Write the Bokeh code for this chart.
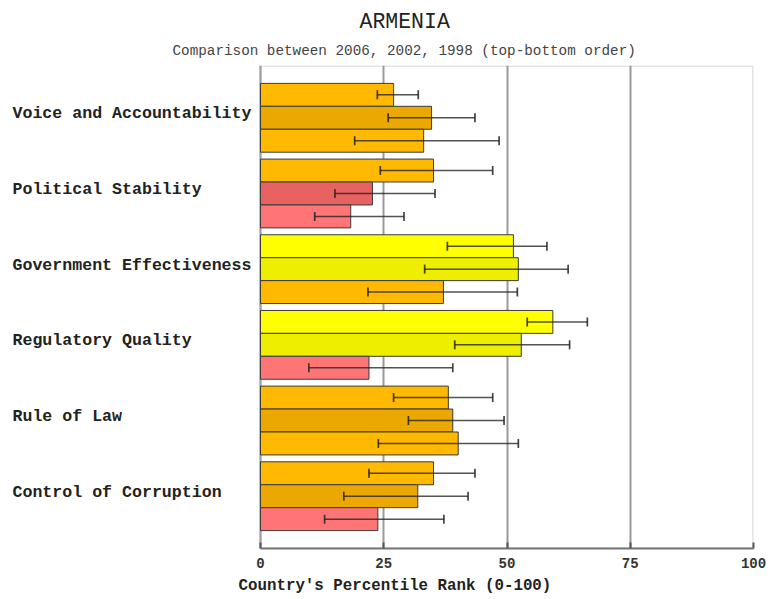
from bokeh.plotting import figure
from bokeh.models import ColumnDataSource, FactorRange, Whisker, TeeHead, Title, FixedTicker, BoxAnnotation
from bokeh.core.properties import value
from bokeh.embed import file_html
from bokeh.resources import INLINE

categories = ["Voice and Accountability", "Political Stability", "Government Effectiveness",
              "Regulatory Quality", "Rule of Law", "Control of Corruption"]
years = ["2006", "2002", "1998"]

rank_2006 = [27.0, 35.1, 51.3, 59.3, 38.1, 35.1]
lower_2006 = [23.7, 24.3, 37.9, 54.1, 27.0, 22.0]
upper_2006 = [32.0, 47.1, 58.1, 66.3, 47.1, 43.5]

rank_2002 = [34.7, 22.7, 52.3, 52.9, 39.0, 31.9]
lower_2002 = [25.9, 15.1, 33.3, 39.4, 30.0, 16.9]
upper_2002 = [43.5, 35.4, 62.4, 62.7, 49.4, 42.1]

rank_1998 = [33.1, 18.3, 37.1, 22.0, 40.1, 23.8]
lower_1998 = [19.1, 11.0, 21.8, 9.8, 23.9, 13.0]
upper_1998 = [48.4, 29.1, 52.1, 39.0, 52.3, 37.2]

x_ticks = [0, 25, 50, 75, 100]

ranks = {"2006": rank_2006, "2002": rank_2002, "1998": rank_1998}
lowers = {"2006": lower_2006, "2002": lower_2002, "1998": lower_1998}
uppers = {"2006": upper_2006, "2002": upper_2002, "1998": upper_1998}

LIGHT = ["#FF7575", "#FFB900", "#FFFF00", "#33CC33"]
DARK = ["#E86262", "#EAA800", "#EEEE00", "#22AA22"]


def band(v):
    return 0 if v < 25 else 1 if v < 50 else 2 if v < 75 else 3


ys, rs, los, his, cols = [], [], [], [], []
for i, c in enumerate(categories):
    for yr in years:
        v = ranks[yr][i]
        ys.append((c, yr))
        rs.append(v)
        los.append(lowers[yr][i])
        his.append(uppers[yr][i])
        cols.append((DARK if yr == "2002" else LIGHT)[band(v)])

src = ColumnDataSource(dict(y=ys, r=rs, lo=los, hi=his, c=cols))

# left part of the frame (in data units) reserved for the category names
X_START = -52.74
lab_src = ColumnDataSource(dict(y=categories, x=[X_START] * len(categories), t=categories))

factors = [(c, yr) for c in reversed(categories) for yr in reversed(years)]
yr_range = FactorRange(factors=factors, group_padding=0.3, range_padding=0.08)

MONO = "Liberation Mono"

p = figure(width=768, height=599, y_range=yr_range, x_range=(X_START, 100),
           output_backend="svg", toolbar_location=None,
           min_border_left=0, min_border_right=15, min_border_top=65, min_border_bottom=51)
p.title = None
p.outline_line_color = None

p.hbar(y="y", left=0, right="r", height=1.0, source=src, fill_color="c",
       line_color="#3a3a3a", line_width=1)

wh = Whisker(base="y", lower="lo", upper="hi", dimension="width", source=src,
             line_color="#222222", line_width=1.5, line_alpha=0.78, level="annotation",
             upper_head=TeeHead(size=9, line_color="#222222", line_width=1.7, line_alpha=0.85),
             lower_head=TeeHead(size=9, line_color="#222222", line_width=1.7, line_alpha=0.85))
p.add_layout(wh)

p.text(x="x", y="y", text="t", source=lab_src, x_offset=12, y_offset=-4,
       text_align="left", text_baseline="middle", text_font=value(MONO),
       text_font_style="bold", text_font_size="16.6px", text_color="#222222")

frame_box = BoxAnnotation(left=0, right=100, fill_alpha=0, line_color="#a4a4a4",
                          line_width=3, level="underlay")
p.add_layout(frame_box)

p.yaxis.visible = False
p.ygrid.visible = False

p.xaxis.bounds = (0, 100)
p.xgrid.bounds = (0, 100)
p.xaxis.ticker = FixedTicker(ticks=x_ticks)
p.xgrid.ticker = FixedTicker(ticks=x_ticks)
p.xgrid.grid_line_color = "#9a9a9a"
p.xgrid.grid_line_width = 2
p.xaxis.axis_line_color = "#777777"
p.xaxis.axis_line_width = 2
p.xaxis.major_tick_in = 6
p.xaxis.major_tick_out = 0
p.xaxis.major_tick_line_color = "#555555"
p.xaxis.major_tick_line_width = 2
p.xaxis.minor_tick_line_color = None
p.xaxis.major_label_text_font = MONO
p.xaxis.major_label_text_font_style = "bold"
p.xaxis.major_label_text_font_size = "14px"
p.xaxis.major_label_text_color = "#333333"
p.xaxis.major_label_standoff = 9

p.add_layout(Title(text="Country's Percentile Rank (0-100)", align="left", offset=238,
                   text_font=MONO, text_font_style="bold", text_font_size="15.8px",
                   text_color="#222222", standoff=8), "below")

p.add_layout(Title(text="Comparison between 2006, 2002, 1998 (top-bottom order)", align="left",
                   offset=172, text_font=MONO, text_font_style="normal", text_font_size="14.3px",
                   text_color="#444444", standoff=13), "above")
p.add_layout(Title(text="ARMENIA", align="left", offset=359, text_font=MONO,
                   text_font_style="normal", text_font_size="21.5px", text_color="#222222",
                   standoff=2), "above")

open("out.html", "w").write(file_html(p, INLINE))
